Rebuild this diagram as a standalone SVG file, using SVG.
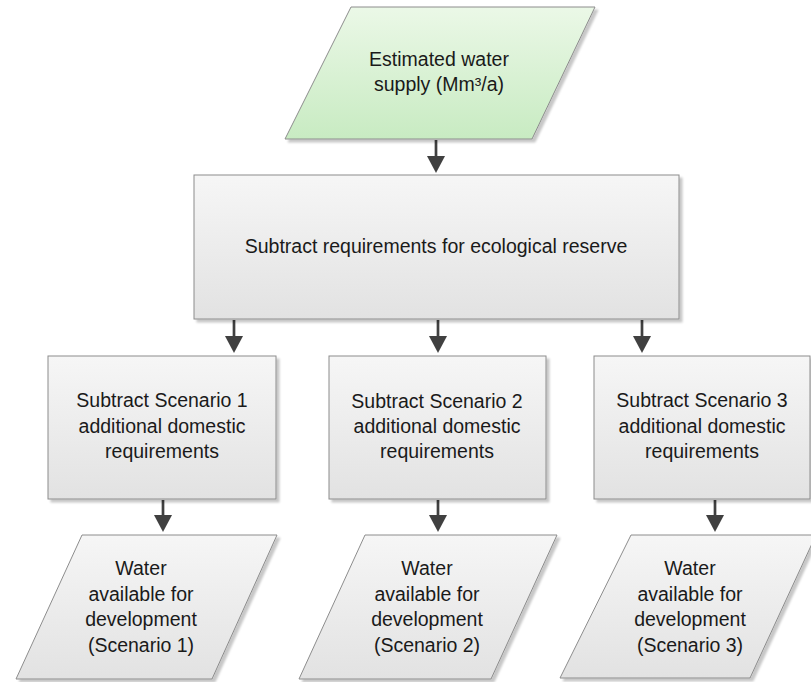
<svg xmlns="http://www.w3.org/2000/svg" width="811" height="682" viewBox="0 0 811 682">
  <defs>
    <linearGradient id="gGreen" x1="0" y1="0" x2="0" y2="1">
      <stop offset="0" stop-color="#ebf8e7"/>
      <stop offset="1" stop-color="#c8ebc2"/>
    </linearGradient>
    <linearGradient id="gGray" x1="0" y1="0" x2="0" y2="1">
      <stop offset="0" stop-color="#f6f6f6"/>
      <stop offset="1" stop-color="#e2e2e2"/>
    </linearGradient>
    <filter id="shadow" x="-5%" y="-5%" width="115%" height="115%">
      <feDropShadow dx="3" dy="3" stdDeviation="1" flood-color="#000" flood-opacity="0.22"/>
    </filter>
    <path id="head" d="M-9,0 L9,0 L0,17 Z" fill="#404040"/>
  </defs>
  <style>
    .shape { stroke: #8c8c8c; stroke-width: 1; filter: url(#shadow); }
    .gray { fill: url(#gGray); }
    .green { fill: url(#gGreen); }
    .label { font-family: "Liberation Sans", Arial, sans-serif; font-size: 19.5px; fill: #1a1a1a; text-anchor: middle; }
    .conn { stroke: #404040; stroke-width: 2.7; fill: none; }
  </style>

  <rect width="811" height="682" fill="#ffffff"/>

  <!-- connectors: shaft plus filled triangular head -->
  <g id="connectors">
    <path class="conn" d="M436,140 V157"/>
    <use href="#head" x="436" y="156"/>

    <path class="conn" d="M234,320 V337"/>
    <use href="#head" x="234" y="336"/>
    <path class="conn" d="M438,320 V337"/>
    <use href="#head" x="438" y="336"/>
    <path class="conn" d="M642,320 V337"/>
    <use href="#head" x="642" y="336"/>

    <path class="conn" d="M163,500 V516"/>
    <use href="#head" x="163" y="515"/>
    <path class="conn" d="M438,500 V516"/>
    <use href="#head" x="438" y="515"/>
    <path class="conn" d="M715,500 V516"/>
    <use href="#head" x="715" y="515"/>
  </g>

  <!-- input: estimated supply -->
  <g id="supply">
    <polygon class="shape green" points="351,7 595,7 532,139 285,139"/>
    <text class="label" x="439" y="66">Estimated water</text>
    <text class="label" x="439" y="91">supply (Mm³/a)</text>
  </g>

  <!-- ecological reserve step -->
  <g id="reserve">
    <rect class="shape gray" x="194" y="175" width="485" height="144"/>
    <text class="label" x="436" y="253">Subtract requirements for ecological reserve</text>
  </g>

  <!-- scenario steps -->
  <g id="scenario1">
    <rect class="shape gray" x="48" y="356" width="228" height="143"/>
    <text class="label" x="162" y="407">Subtract Scenario 1</text>
    <text class="label" x="162" y="433">additional domestic</text>
    <text class="label" x="162" y="458">requirements</text>
  </g>
  <g id="scenario2">
    <rect class="shape gray" x="329" y="356" width="217" height="143"/>
    <text class="label" x="437" y="408">Subtract Scenario 2</text>
    <text class="label" x="437" y="433">additional domestic</text>
    <text class="label" x="437" y="458">requirements</text>
  </g>
  <g id="scenario3">
    <rect class="shape gray" x="594" y="356" width="216" height="143"/>
    <text class="label" x="702" y="407">Subtract Scenario 3</text>
    <text class="label" x="702" y="433">additional domestic</text>
    <text class="label" x="702" y="458">requirements</text>
  </g>

  <!-- outputs -->
  <g id="output1">
    <polygon class="shape gray" points="82,535 277,535 212,679 16,679"/>
    <text class="label" x="141" y="575">Water</text>
    <text class="label" x="141" y="601">available for</text>
    <text class="label" x="141" y="626">development</text>
    <text class="label" x="141" y="652">(Scenario 1)</text>
  </g>
  <g id="output2">
    <polygon class="shape gray" points="365,535 557,535 491,679 299,679"/>
    <text class="label" x="427" y="575">Water</text>
    <text class="label" x="427" y="601">available for</text>
    <text class="label" x="427" y="626">development</text>
    <text class="label" x="427" y="652">(Scenario 2)</text>
  </g>
  <g id="output3">
    <polygon class="shape gray" points="631,535 816,535 750,678 560,678"/>
    <text class="label" x="690" y="575">Water</text>
    <text class="label" x="690" y="601">available for</text>
    <text class="label" x="690" y="626">development</text>
    <text class="label" x="690" y="652">(Scenario 3)</text>
  </g>
</svg>
